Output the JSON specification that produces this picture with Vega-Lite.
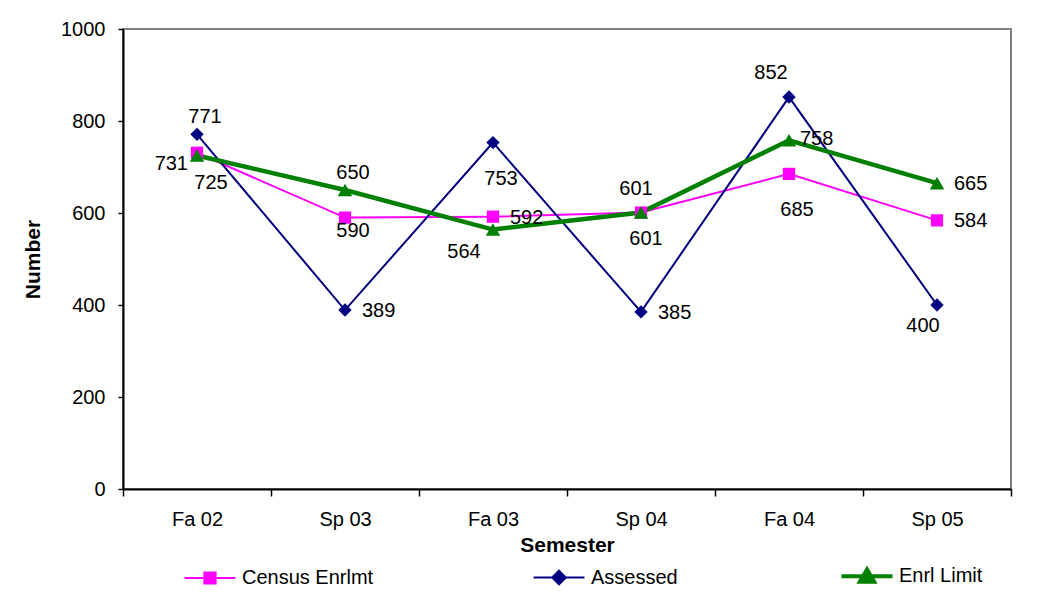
{
  "$schema": "https://vega.github.io/schema/vega-lite/v6.json",
  "width": 888,
  "height": 460,
  "autosize": {"type": "none"},
  "padding": {"left": 123, "top": 29, "right": 44, "bottom": 116},
  "background": "white",
  "config": {
    "font": "Liberation Sans",
    "view": {"stroke": "#808080", "strokeWidth": 2},
    "axis": {
      "labelFont": "Liberation Sans", "labelFontSize": 20, "labelColor": "black",
      "titleFont": "Liberation Sans", "titleFontSize": 21, "titleFontWeight": "bold", "titleColor": "black",
      "domainColor": "black", "domainWidth": 2, "tickColor": "black", "tickWidth": 1.5, "grid": false
    },
    "text": {"font": "Liberation Sans", "fontSize": 20, "baseline": "middle"}
  },
  "data": {
    "values": [
      {"semester": "Fa 02", "series": "Census Enrlmt", "value": 731},
      {"semester": "Sp 03", "series": "Census Enrlmt", "value": 590},
      {"semester": "Fa 03", "series": "Census Enrlmt", "value": 592},
      {"semester": "Sp 04", "series": "Census Enrlmt", "value": 601},
      {"semester": "Fa 04", "series": "Census Enrlmt", "value": 685},
      {"semester": "Sp 05", "series": "Census Enrlmt", "value": 584},
      {"semester": "Fa 02", "series": "Assessed", "value": 771},
      {"semester": "Sp 03", "series": "Assessed", "value": 389},
      {"semester": "Fa 03", "series": "Assessed", "value": 753},
      {"semester": "Sp 04", "series": "Assessed", "value": 385},
      {"semester": "Fa 04", "series": "Assessed", "value": 852},
      {"semester": "Sp 05", "series": "Assessed", "value": 400},
      {"semester": "Fa 02", "series": "Enrl Limit", "value": 725},
      {"semester": "Sp 03", "series": "Enrl Limit", "value": 650},
      {"semester": "Fa 03", "series": "Enrl Limit", "value": 564},
      {"semester": "Sp 04", "series": "Enrl Limit", "value": 601},
      {"semester": "Fa 04", "series": "Enrl Limit", "value": 758},
      {"semester": "Sp 05", "series": "Enrl Limit", "value": 665}
    ]
  },
  "encoding": {
    "x": {
      "field": "semester", "type": "nominal",
      "sort": ["Fa 02", "Sp 03", "Fa 03", "Sp 04", "Fa 04", "Sp 05"],
      "scale": {"type": "band", "paddingInner": 0, "paddingOuter": 0},
      "axis": {"title": "Semester", "labelAngle": 0, "tickBand": "extent", "tickSize": 7, "labelPadding": 13, "titlePadding": 5}
    },
    "y": {
      "field": "value", "type": "quantitative",
      "scale": {"domain": [0, 1000], "nice": false},
      "axis": {"title": "Number", "format": "d", "values": [0, 200, 400, 600, 800, 1000], "tickSize": 5, "labelPadding": 13, "titlePadding": 17}
    },
    "color": {
      "field": "series", "type": "nominal",
      "scale": {"domain": ["Census Enrlmt", "Assessed", "Enrl Limit"], "range": ["#FF00FF", "#000080", "#008000"]},
      "legend": {
        "title": null, "orient": "none", "direction": "horizontal",
        "legendX": 77, "legendY": 537, "padding": 0,
        "labelFont": "Liberation Sans", "labelFontSize": 20, "labelColor": "black",
        "labelOffset": 22, "columnPadding": 155, "symbolSize": 2601,
        "symbolOpacity": 1, "symbolStrokeWidth": 2,
        "encode": {
          "symbols": {
            "update": {
              "shape": {"signal": "datum.value === 'Census Enrlmt' ? 'M-1,0H1M-0.22,-0.22H0.22V0.22H-0.22Z' : datum.value === 'Assessed' ? 'M-1,0H1M0,-0.27L0.27,0L0,0.27L-0.27,0Z' : 'M-1,0H1M0,-0.26L0.28,0.22L-0.28,0.22Z'"},
              "stroke": {"signal": "datum.value === 'Census Enrlmt' ? '#FF00FF' : datum.value === 'Assessed' ? '#000080' : '#008000'"},
              "fill": {"signal": "datum.value === 'Census Enrlmt' ? '#FF00FF' : datum.value === 'Assessed' ? '#000080' : '#008000'"},
              "strokeWidth": {"signal": "datum.value === 'Enrl Limit' ? 4 : 2"},
              "size": {"value": 2601},
              "opacity": {"value": 1}
            }
          }
        }
      }
    }
  },
  "layer": [
    {
      "transform": [{"filter": "datum.series !== 'Enrl Limit'"}],
      "mark": {"type": "line", "strokeWidth": 2}
    },
    {
      "transform": [{"filter": "datum.series === 'Enrl Limit'"}],
      "mark": {"type": "line", "strokeWidth": 4.5}
    },
    {
      "transform": [{"filter": "datum.series === 'Census Enrlmt'"}],
      "mark": {"type": "point", "shape": "square", "size": 150, "filled": true, "opacity": 1, "strokeWidth": 0}
    },
    {
      "transform": [{"filter": "datum.series === 'Assessed'"}],
      "mark": {"type": "point", "shape": "diamond", "size": 180, "filled": true, "opacity": 1, "strokeWidth": 0}
    },
    {
      "transform": [{"filter": "datum.series === 'Enrl Limit'"}],
      "mark": {"type": "point", "shape": "triangle-up", "size": 210, "filled": true, "opacity": 1, "strokeWidth": 0}
    },
    {
      "transform": [{"filter": "(datum.series === 'Assessed' && datum.semester === 'Fa 02') || (datum.series === 'Enrl Limit' && datum.semester === 'Sp 03')"}],
      "mark": {"type": "text", "align": "center", "dx": 8, "dy": -17},
      "encoding": {"text": {"field": "value", "type": "quantitative"}, "color": {"value": "black"}}
    },
    {
      "transform": [{"filter": "datum.series === 'Census Enrlmt' && datum.semester === 'Sp 04'"}],
      "mark": {"type": "text", "align": "center", "dx": -5, "dy": -24},
      "encoding": {"text": {"field": "value", "type": "quantitative"}, "color": {"value": "black"}}
    },
    {
      "transform": [{"filter": "datum.series === 'Assessed' && datum.semester === 'Fa 04'"}],
      "mark": {"type": "text", "align": "center", "dx": -18, "dy": -24},
      "encoding": {"text": {"field": "value", "type": "quantitative"}, "color": {"value": "black"}}
    },
    {
      "transform": [{"filter": "(datum.series === 'Assessed' && (datum.semester === 'Sp 03' || datum.semester === 'Sp 04')) || (datum.series === 'Census Enrlmt' && (datum.semester === 'Fa 03' || datum.semester === 'Sp 05')) || (datum.series === 'Enrl Limit' && datum.semester === 'Sp 05')"}],
      "mark": {"type": "text", "align": "left", "dx": 17, "dy": 1},
      "encoding": {"text": {"field": "value", "type": "quantitative"}, "color": {"value": "black"}}
    },
    {
      "transform": [{"filter": "datum.series === 'Enrl Limit' && datum.semester === 'Fa 04'"}],
      "mark": {"type": "text", "align": "left", "dx": 11, "dy": -1},
      "encoding": {"text": {"field": "value", "type": "quantitative"}, "color": {"value": "black"}}
    },
    {
      "transform": [{"filter": "datum.series === 'Census Enrlmt' && datum.semester === 'Fa 02'"}],
      "mark": {"type": "text", "align": "right", "dx": -9, "dy": 11},
      "encoding": {"text": {"field": "value", "type": "quantitative"}, "color": {"value": "black"}}
    },
    {
      "transform": [{"filter": "datum.series === 'Enrl Limit' && datum.semester === 'Fa 02'"}],
      "mark": {"type": "text", "align": "center", "dx": 14, "dy": 27},
      "encoding": {"text": {"field": "value", "type": "quantitative"}, "color": {"value": "black"}}
    },
    {
      "transform": [{"filter": "datum.series === 'Census Enrlmt' && datum.semester === 'Sp 03'"}],
      "mark": {"type": "text", "align": "center", "dx": 8, "dy": 13},
      "encoding": {"text": {"field": "value", "type": "quantitative"}, "color": {"value": "black"}}
    },
    {
      "transform": [{"filter": "(datum.series === 'Assessed' && datum.semester === 'Fa 03') || (datum.series === 'Census Enrlmt' && datum.semester === 'Fa 04')"}],
      "mark": {"type": "text", "align": "center", "dx": 8, "dy": 36},
      "encoding": {"text": {"field": "value", "type": "quantitative"}, "color": {"value": "black"}}
    },
    {
      "transform": [{"filter": "datum.series === 'Enrl Limit' && datum.semester === 'Fa 03'"}],
      "mark": {"type": "text", "align": "center", "dx": -29, "dy": 22},
      "encoding": {"text": {"field": "value", "type": "quantitative"}, "color": {"value": "black"}}
    },
    {
      "transform": [{"filter": "datum.series === 'Enrl Limit' && datum.semester === 'Sp 04'"}],
      "mark": {"type": "text", "align": "center", "dx": 5, "dy": 26},
      "encoding": {"text": {"field": "value", "type": "quantitative"}, "color": {"value": "black"}}
    },
    {
      "transform": [{"filter": "datum.series === 'Assessed' && datum.semester === 'Sp 05'"}],
      "mark": {"type": "text", "align": "center", "dx": -14, "dy": 21},
      "encoding": {"text": {"field": "value", "type": "quantitative"}, "color": {"value": "black"}}
    }
  ]
}
